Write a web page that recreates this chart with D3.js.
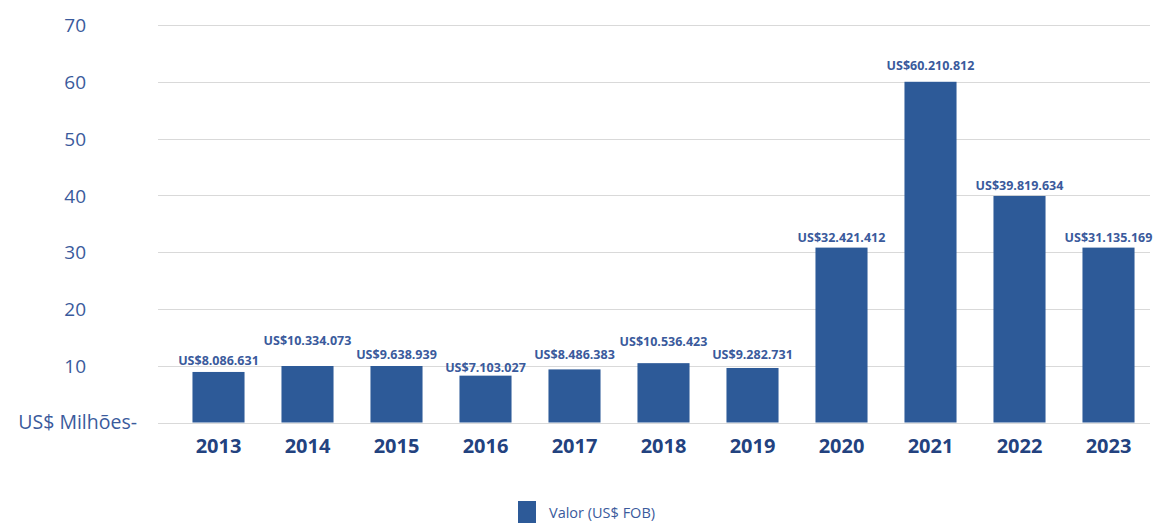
<!DOCTYPE html>
<html>
<head>
<meta charset="utf-8">
<script src="https://cdn.jsdelivr.net/npm/d3@7"></script>
<style>
  body { margin: 0; background: #fff; }
  text { font-family: "Open Sans", "Noto Sans", sans-serif; }
</style>
</head>
<body>
<div id="chart"></div>
<script>
// values (US$ millions)
const years = ["2013", "2014", "2015", "2016", "2017", "2018", "2019", "2020", "2021", "2022", "2023"];
const values = [8.9, 9.95, 9.95, 8.25, 9.35, 10.45, 9.6, 30.8, 60.0, 39.9, 30.8];
const valueLabels = ["US$8.086.631", "US$10.334.073", "US$9.638.939", "US$7.103.027", "US$8.486.383",
  "US$10.536.423", "US$9.282.731", "US$32.421.412", "US$60.210.812", "US$39.819.634", "US$31.135.169"];
const yTicks = [0, 10, 20, 30, 40, 50, 60, 70];
const legendLabel = "Valor (US$ FOB)";

// how far each value label sits above its bar, px (layout only)
const labelLift = [7, 21, 7, 4, 10, 17, 9, 6, 12, 6, 6];

const width = 1155, height = 523;
const barColor = "#2d5a98";
const textColor = "#3a5a9c";

const svg = d3.select("#chart")
  .append("svg")
  .attr("width", width)
  .attr("height", height);

const x = d3.scaleBand()
  .domain(years)
  .range([174, 1153])
  .paddingInner(0.415)
  .paddingOuter(0.2075);

const y = d3.scaleLinear()
  .domain([0, 70])
  .range([422.5, 25]);

// gridlines
svg.append("g")
  .selectAll("line")
  .data(yTicks)
  .join("line")
  .attr("x1", 158)
  .attr("x2", 1150)
  .attr("y1", d => Math.round(y(d)) + 0.5)
  .attr("y2", d => Math.round(y(d)) + 0.5)
  .attr("stroke", "#d9d9d9")
  .attr("stroke-width", 1.2);

// y tick labels
const yAxis = svg.append("g")
  .attr("transform", "translate(86,0)")
  .call(d3.axisLeft(y).tickValues(yTicks.filter(d => d > 0)).tickSize(0).tickPadding(0));
yAxis.select(".domain").remove();
yAxis.selectAll("text")
  .attr("fill", textColor)
  .style("font-size", "19px")
  .attr("dy", "0.35em");

svg.append("text")
  .attr("x", 137)
  .attr("y", y(0))
  .attr("dy", "0.35em")
  .attr("text-anchor", "end")
  .attr("fill", textColor)
  .style("font-size", "19.5px")
  .text("US$ Milhões-");

// bars
svg.append("g")
  .selectAll("rect")
  .data(years)
  .join("rect")
  .attr("x", d => x(d))
  .attr("width", x.bandwidth())
  .attr("y", (d, i) => y(values[i]))
  .attr("height", (d, i) => y(0) - y(values[i]))
  .attr("fill", barColor);

// value labels
svg.append("g")
  .selectAll("text")
  .data(years)
  .join("text")
  .attr("x", d => x(d) + x.bandwidth() / 2)
  .attr("y", (d, i) => y(values[i]) - labelLift[i])
  .attr("text-anchor", "middle")
  .attr("fill", textColor)
  .style("font-size", "12.5px")
  .style("font-weight", "700")
  .text((d, i) => valueLabels[i]);

// x axis labels
const xAxis = svg.append("g")
  .attr("transform", `translate(0,${y(0)})`)
  .call(d3.axisBottom(x).tickSize(0).tickPadding(16));
xAxis.select(".domain").remove();
xAxis.selectAll("text")
  .attr("fill", "#23427f")
  .style("font-size", "20px")
  .style("font-weight", "700");

// legend
const legend = svg.append("g").attr("transform", "translate(518,501)");
legend.append("rect")
  .attr("width", 18)
  .attr("height", 22)
  .attr("fill", barColor);
legend.append("text")
  .attr("x", 31)
  .attr("y", 12)
  .attr("dy", "0.35em")
  .attr("fill", textColor)
  .style("font-size", "14.5px")
  .text(legendLabel);
</script>
</body>
</html>
